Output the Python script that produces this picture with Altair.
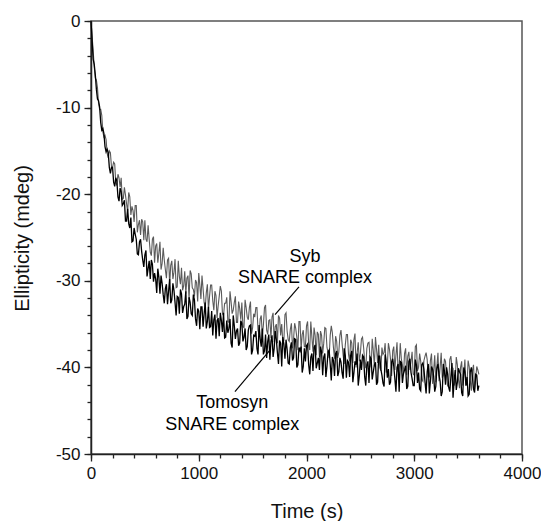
import altair as alt
import pandas as pd

TIME = list(range(0, 3601, 20))
TIME_MID = list(range(10, 3600, 20))

TOMOSYN = [
    0.0, -4.4, -6.2, -9.0, -9.9, -12.6, -13.0, -15.1, -15.2, -17.6,
    -16.9, -19.1, -18.5, -20.8, -19.7, -21.1, -23.1, -21.7, -23.9, -25.5,
    -23.9, -25.2, -27.0, -25.2, -27.6, -27.0, -29.5, -27.7, -27.6, -30.1,
    -29.8, -28.6, -31.5, -30.3, -32.6, -30.4, -31.2, -32.6, -30.3, -32.5,
    -31.8, -33.8, -31.5, -33.0, -31.2, -34.1, -32.5, -34.0, -32.2, -35.2,
    -33.5, -33.0, -35.3, -32.5, -34.7, -35.4, -33.5, -34.5, -36.7, -34.3,
    -33.7, -35.9, -36.6, -34.6, -35.5, -37.2, -34.0, -36.7, -35.5, -37.2,
    -34.9, -36.5, -38.0, -35.7, -35.1, -38.0, -36.4, -37.8, -35.1, -37.6,
    -38.5, -36.2, -37.0, -39.1, -36.3, -37.8, -36.8, -39.6, -37.2, -36.5,
    -39.0, -37.9, -39.6, -37.1, -38.9, -36.8, -39.7, -38.1, -40.6, -37.8,
    -37.5, -39.7, -38.8, -40.4, -37.4, -39.5, -40.3, -38.2, -38.8, -41.1,
    -38.2, -39.6, -38.8, -41.0, -38.1, -40.5, -39.4, -41.3, -38.6, -39.2,
    -41.1, -38.1, -40.6, -39.7, -42.1, -39.1, -38.6, -41.1, -39.7, -41.8,
    -39.0, -40.5, -39.4, -41.7, -38.7, -40.9, -42.2, -39.4, -40.2, -41.7,
    -39.0, -41.3, -40.0, -42.8, -39.4, -40.7, -39.8, -42.2, -39.0, -41.3,
    -42.1, -39.7, -40.6, -42.7, -39.5, -41.7, -40.5, -43.0, -39.9, -41.0,
    -42.2, -39.6, -41.6, -42.8, -40.4, -40.0, -42.3, -41.1, -43.5, -40.3,
    -41.7, -40.5, -42.9, -40.0, -42.1, -43.3, -40.5, -41.1, -42.9, -40.9,
    -42.1,
]

TOMOSYN_MID = [
    -2.2, -5.0, -7.9, -9.2, -11.7, -12.4, -14.5, -14.8, -16.9, -16.9,
    -18.6, -18.1, -20.3, -19.3, -21.3, -20.7, -23.1, -23.4, -22.7, -25.4,
    -24.6, -26.9, -25.5, -26.6, -28.4, -26.5, -28.6, -29.8, -28.1, -29.1,
    -31.4, -29.6, -29.4, -31.6, -30.9, -32.7, -29.8, -32.2, -31.1, -34.0,
    -31.9, -31.0, -33.7, -32.7, -34.4, -31.9, -33.8, -31.6, -34.4, -33.2,
    -35.6, -33.0, -33.8, -35.5, -33.0, -35.3, -36.3, -33.9, -34.6, -36.4,
    -34.6, -33.7, -36.5, -36.0, -34.4, -37.7, -35.2, -35.8, -37.5, -34.6,
    -37.0, -35.5, -37.6, -35.2, -38.5, -36.3, -35.8, -38.5, -36.7, -35.5,
    -38.1, -38.9, -36.2, -37.0, -38.8, -35.8, -38.3, -36.9, -39.9, -37.3,
    -36.8, -39.5, -37.7, -39.2, -36.7, -40.0, -37.7, -37.6, -39.9, -39.3,
    -37.3, -40.8, -38.4, -37.7, -40.1, -38.9, -37.6, -40.9, -38.4, -39.9,
    -38.0, -41.5, -39.2, -38.4, -41.0, -38.9, -40.6, -37.8, -41.2, -39.4,
    -38.6, -41.7, -39.3, -38.4, -41.0, -40.3, -38.8, -42.1, -39.3, -38.8,
    -41.4, -39.7, -42.0, -38.7, -40.2, -41.8, -38.5, -41.2, -42.0, -39.4,
    -39.9, -42.8, -39.6, -39.3, -41.8, -40.3, -42.5, -39.3, -40.6, -42.1,
    -39.1, -41.8, -42.5, -39.7, -40.2, -43.0, -39.6, -41.6, -40.2, -42.8,
    -40.1, -40.9, -43.3, -39.6, -42.0, -40.8, -42.8, -39.5, -41.6, -42.6,
    -40.1, -40.8, -43.3, -40.5, -41.1, -43.1, -40.0, -42.5, -40.8, -42.7,
]

SYB = [
    0.0, -3.4, -6.6, -7.7, -10.2, -10.9, -13.4, -13.7, -15.8, -15.2,
    -16.9, -16.5, -19.0, -18.1, -18.1, -20.5, -20.1, -22.0, -20.3, -21.4,
    -23.2, -21.3, -23.5, -24.7, -23.2, -23.0, -25.5, -25.2, -27.1, -24.9,
    -26.0, -27.9, -25.5, -28.0, -27.6, -29.7, -27.4, -28.2, -29.8, -27.5,
    -30.7, -29.5, -28.5, -30.6, -31.5, -29.4, -28.8, -30.8, -31.8, -30.2,
    -29.1, -32.1, -30.9, -33.1, -30.4, -31.8, -30.5, -33.4, -31.7, -32.9,
    -30.6, -33.8, -32.6, -31.9, -34.8, -32.4, -33.4, -31.8, -34.8, -33.2,
    -32.5, -35.4, -33.1, -34.5, -32.4, -35.4, -34.2, -33.1, -36.2, -34.0,
    -35.1, -32.8, -36.2, -34.5, -34.2, -37.1, -35.0, -34.0, -36.3, -37.0,
    -33.9, -35.8, -37.0, -34.9, -36.7, -35.5, -38.0, -34.7, -36.2, -37.6,
    -35.2, -37.3, -34.7, -38.2, -36.3, -35.9, -38.8, -36.3, -37.2, -35.5,
    -38.3, -36.3, -36.0, -39.0, -37.0, -38.2, -35.7, -38.6, -37.4, -36.2,
    -39.3, -37.2, -36.8, -40.0, -37.1, -38.4, -36.5, -39.3, -37.8, -37.1,
    -40.0, -38.1, -36.5, -39.5, -40.0, -37.7, -38.3, -40.6, -37.2, -39.1,
    -38.1, -40.3, -37.1, -39.8, -39.0, -40.9, -37.8, -38.7, -40.3, -38.2,
    -40.9, -37.4, -40.0, -39.3, -41.6, -38.7, -39.1, -41.1, -38.4, -40.4,
    -41.7, -38.3, -40.0, -41.2, -39.0, -40.9, -41.9, -38.7, -40.1, -41.6,
    -39.7, -42.4, -39.3, -40.7, -42.0, -39.2, -41.5, -40.4, -42.5, -39.9,
    -40.8,
]

SYB_MID = [
    -1.7, -5.3, -6.8, -9.5, -10.2, -12.8, -13.2, -15.3, -15.0, -16.8,
    -16.3, -18.7, -17.7, -19.2, -20.6, -19.2, -21.1, -19.8, -22.4, -21.9,
    -21.3, -24.4, -23.0, -22.9, -25.3, -25.2, -23.6, -26.7, -25.2, -27.9,
    -25.7, -26.8, -28.7, -26.2, -28.7, -27.6, -30.4, -27.7, -29.0, -30.8,
    -27.7, -30.4, -31.1, -28.9, -29.7, -32.1, -29.2, -31.0, -29.9, -32.4,
    -30.5, -29.4, -32.5, -31.4, -33.4, -30.5, -32.3, -31.2, -34.3, -31.8,
    -31.2, -34.0, -32.6, -34.7, -31.2, -33.8, -32.5, -34.8, -32.4, -34.5,
    -35.3, -32.2, -34.2, -33.1, -36.1, -33.8, -33.1, -35.7, -34.4, -36.4,
    -33.1, -35.7, -34.6, -36.6, -33.7, -35.3, -37.2, -34.3, -35.0, -36.9,
    -33.7, -36.8, -35.6, -37.8, -34.9, -36.5, -34.7, -37.9, -35.7, -37.6,
    -34.7, -38.0, -36.5, -35.4, -38.6, -36.2, -35.8, -38.4, -35.4, -37.7,
    -38.9, -35.2, -37.7, -36.4, -38.9, -36.3, -37.2, -39.6, -36.2, -38.5,
    -36.8, -39.5, -36.1, -38.3, -39.3, -36.7, -37.7, -40.1, -37.2, -39.1,
    -36.7, -39.9, -37.9, -37.4, -40.4, -38.5, -37.2, -39.9, -37.9, -41.0,
    -37.6, -38.6, -40.5, -37.2, -39.7, -38.4, -40.9, -38.2, -39.3, -40.8,
    -37.6, -40.4, -38.4, -41.4, -39.2, -38.3, -41.1, -39.2, -41.9, -38.6,
    -39.9, -41.6, -38.3, -40.9, -39.3, -42.2, -39.1, -40.0, -42.1, -38.8,
    -41.4, -40.0, -42.1, -39.1, -41.9, -39.9, -42.7, -39.7, -41.4, -40.3,
]

X_MAJOR = [0, 1000, 2000, 3000, 4000]
X_MINOR = list(range(0, 4001, 200))
Y_MAJOR = [-50, -40, -30, -20, -10, 0]
Y_MINOR = list(range(-50, 1, 2))

ANNOT_TEXT = ["Syb", "SNARE complex", "Tomosyn", "SNARE complex"]
ANNOT_T = [1986, 1986, 1310, 1310]
ANNOT_V = [-27.3, -29.7, -44.1, -46.6]

LEADER_T1 = [1930, 1661]
LEADER_V1 = [-30.7, -38.0]
LEADER_T2 = [1708, 1336]
LEADER_V2 = [-33.9, -42.8]

FONT = "Liberation Sans"

df_tomo = pd.DataFrame({"t": TIME + TIME_MID, "v": TOMOSYN + TOMOSYN_MID}).sort_values("t")
df_syb = pd.DataFrame({"t": TIME + TIME_MID, "v": SYB + SYB_MID}).sort_values("t")
df_ann = pd.DataFrame({"t": ANNOT_T, "v": ANNOT_V, "label": ANNOT_TEXT})
df_lead = pd.DataFrame({"t": LEADER_T1, "v": LEADER_V1, "t2": LEADER_T2, "v2": LEADER_V2})

xscale = alt.Scale(domain=[0, 4000], nice=False, zero=False)
yscale = alt.Scale(domain=[-50, 0], nice=False, zero=False)

x_major_axis = alt.Axis(
    orient="bottom",
    title="Time (s)",
    values=X_MAJOR,
    labelExpr="'' + datum.value",
    tickSize=7,
    labelPadding=4,
    grid=False,
    labelFontSize=17,
    titleFontSize=20,
    titleFontWeight="normal",
    titleBaseline="alphabetic",
    titleY=63,
    labelFlush=False,
)
y_major_axis = alt.Axis(
    orient="left",
    title="Ellipticity (mdeg)",
    values=Y_MAJOR,
    labelExpr="'' + datum.value",
    tickSize=7,
    labelPadding=4,
    grid=False,
    labelFontSize=17,
    titleFontSize=20,
    titleFontWeight="normal",
    titleAngle=270,
    titleX=-69,
    titleY=217,
    titleAlign="center",
    titleBaseline="middle",
    labelFlush=False,
)
x_minor_axis = alt.Axis(
    orient="bottom", title=None, values=X_MINOR, labels=False,
    tickSize=4, domain=False, grid=False,
)
y_minor_axis = alt.Axis(
    orient="left", title=None, values=Y_MINOR, labels=False,
    tickSize=4, domain=False, grid=False,
)

syb_line = alt.Chart(df_syb).mark_line(color="#5a5a5a", strokeWidth=1.1).encode(
    x=alt.X("t:Q", scale=xscale, axis=x_minor_axis),
    y=alt.Y("v:Q", scale=yscale, axis=y_minor_axis),
    order="t:Q",
)
tomo_line = alt.Chart(df_tomo).mark_line(color="#000000", strokeWidth=1.3).encode(
    x=alt.X("t:Q", scale=xscale, axis=x_major_axis),
    y=alt.Y("v:Q", scale=yscale, axis=y_major_axis),
    order="t:Q",
)
leaders = alt.Chart(df_lead).mark_rule(color="#000000", strokeWidth=1.2).encode(
    x=alt.X("t:Q", scale=xscale, axis=None),
    y=alt.Y("v:Q", scale=yscale, axis=None),
    x2="t2:Q",
    y2="v2:Q",
)
labels = alt.Chart(df_ann).mark_text(
    font=FONT, fontSize=18, color="#000000", align="center", baseline="middle"
).encode(
    x=alt.X("t:Q", scale=xscale, axis=None),
    y=alt.Y("v:Q", scale=yscale, axis=None),
    text="label:N",
)

chart = (
    alt.layer(syb_line, tomo_line, leaders, labels)
    .resolve_scale(x="shared", y="shared")
    .resolve_axis(x="independent", y="independent")
    .properties(
        width=431,
        height=433,
        autosize=alt.AutoSizeParams(type="none"),
        padding={"left": 83, "top": 13, "right": 19, "bottom": 67},
        background="#ffffff",
    )
    .configure_view(stroke="#555555", strokeWidth=1.5)
    .configure_axis(
        labelFont=FONT,
        titleFont=FONT,
        labelColor="#111111",
        titleColor="#111111",
        titleFontWeight="normal",
        domainColor="#222222",
        domainWidth=1.5,
        tickColor="#222222",
        tickWidth=1.3,
    )
)

chart.save("out.html", embed_options={"renderer": "svg", "actions": False})
